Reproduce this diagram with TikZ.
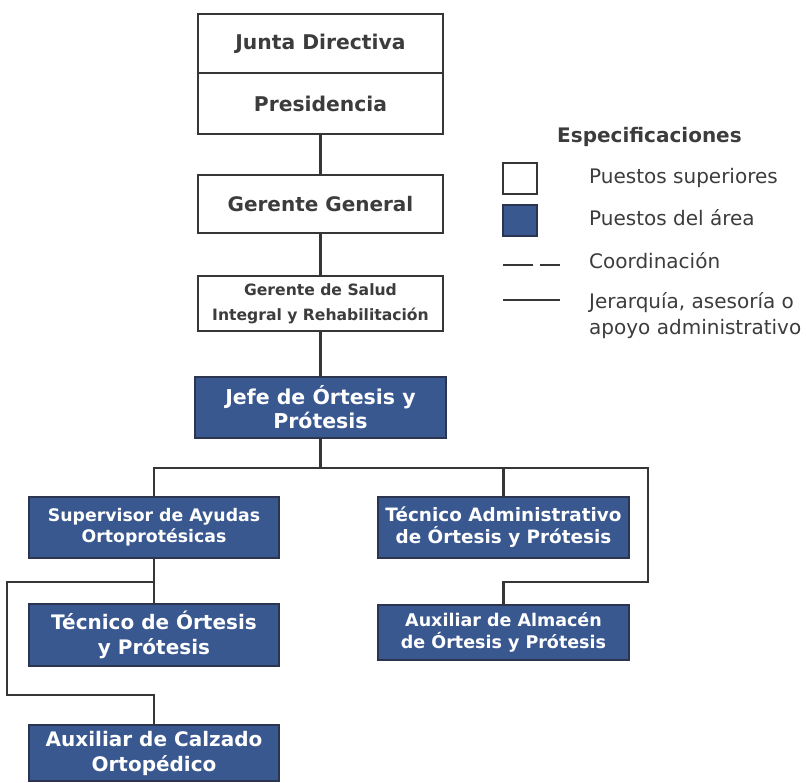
\documentclass[tikz,border=0pt]{standalone}
\usepackage{fontspec}
\setmainfont{DejaVu Sans}
\newcommand\fsz[2]{\fontsize{#1}{#2}\selectfont}
\definecolor{linegray}{HTML}{363636}
\definecolor{textgray}{HTML}{3C3C3C}
\definecolor{areablue}{HTML}{3A5890}
\definecolor{borderblue}{HTML}{2B3550}
\tikzset{
  topbox/.style={draw=linegray, line width=2.5pt, fill=white, text=textgray, inner sep=0pt, outer sep=0pt, align=center, minimum width=245pt},
  areabox/.style={draw=borderblue, line width=2pt, fill=areablue, text=white, inner sep=0pt, outer sep=0pt, align=center, minimum width=251pt},
  conn/.style={draw=linegray, line width=2.7pt},
  legtext/.style={text=textgray, inner sep=0pt, anchor=base west, font=\fsz{20}{26}, align=left}
}
\begin{document}
\begin{tikzpicture}[x=1pt,y=-1pt]
\useasboundingbox (0,0) rectangle (806,782);
% connectors' helper coordinates
\coordinate (bus) at (320,468);
\coordinate (rtop) at (648,468);
\coordinate (rbot) at (648,582);
\coordinate (ltop) at (7,582);
\coordinate (lbot) at (7,695);
% top boxes
\node[topbox, minimum height=59pt, font=\bfseries\fsz{20.3}{24}] (junta) at (320.5,43.5) {Junta Directiva};
\node[topbox, minimum height=61pt, font=\bfseries\fsz{20.3}{24}] (pres) at (320.5,103.5) {Presidencia};
\node[topbox, minimum height=58pt, font=\bfseries\fsz{20}{24}] (gg) at (320.5,204) {Gerente General};
\node[topbox, minimum height=55pt, font=\bfseries\fsz{15.6}{25}] (gs) at (320.5,303.5) {Gerente de Salud\\Integral y Rehabilitación};
% area boxes
\node[areabox, minimum height=61pt, font=\bfseries\fsz{20.5}{24}] (jefe) at (320.5,407.5) {Jefe de Órtesis y\\Prótesis};
\node[areabox, minimum width=250pt, minimum height=61pt, font=\bfseries\fsz{17.3}{21}] (sup) at (154,527.5) {Supervisor de Ayudas\\Ortoprotésicas};
\node[areabox, minimum width=250pt, minimum height=62pt, font=\bfseries\fsz{20}{25}] (tec) at (154,635) {Técnico de Órtesis\\y Prótesis};
\node[areabox, minimum width=250pt, minimum height=56pt, font=\bfseries\fsz{20}{25}] (aux) at (154,753) {Auxiliar de Calzado\\Ortopédico};
\node[areabox, minimum height=61pt, font=\bfseries\fsz{18.4}{22}] (tadm) at (503.5,527.5) {Técnico Administrativo\\de Órtesis y Prótesis};
\node[areabox, minimum height=55pt, font=\bfseries\fsz{17.5}{22}] (alm) at (503.5,632.5) {Auxiliar de Almacén\\de Órtesis y Prótesis};
% connectors
\draw[conn] (pres.south) -- (gg.north);
\draw[conn] (gg.south) -- (gs.north);
\draw[conn] (gs.south) -- (jefe.north);
\draw[conn] (jefe.south) -- (jefe.south |- bus);
\draw[conn] (sup.north) |- (rtop) -- (rbot) -| (alm.north);
\draw[conn] (tadm.north) -- (tadm.north |- rtop);
\draw[conn] (sup.south) -- (tec.north);
\draw[conn] (sup.south |- ltop) -- (ltop) -- (lbot) -| (aux.north);
% legend
\node[text=textgray, inner sep=0pt, anchor=west, font=\bfseries\fsz{20}{24}] (legtitle) at (557,137) {Especificaciones};
\draw[draw=linegray, line width=2pt, fill=white] (503,163) rectangle (537,194);
\draw[draw=borderblue, line width=1.6pt, fill=areablue] (503,205) rectangle (537,236);
\draw[draw=linegray, line width=2.6pt, dash pattern=on 30pt off 7pt on 20pt off 100pt] (503,265) -- (560,265);
\draw[draw=linegray, line width=2.6pt] (503,300) -- (560,300);
\node[legtext] (l1) at (589,183) {Puestos superiores};
\node[legtext] (l2) at (589,225) {Puestos del área};
\node[legtext] (l3) at (589,268) {Coordinación};
\node[legtext] (l4) at (589,334) {Jerarquía, asesoría o\\apoyo administrativo};
\end{tikzpicture}
\end{document}
